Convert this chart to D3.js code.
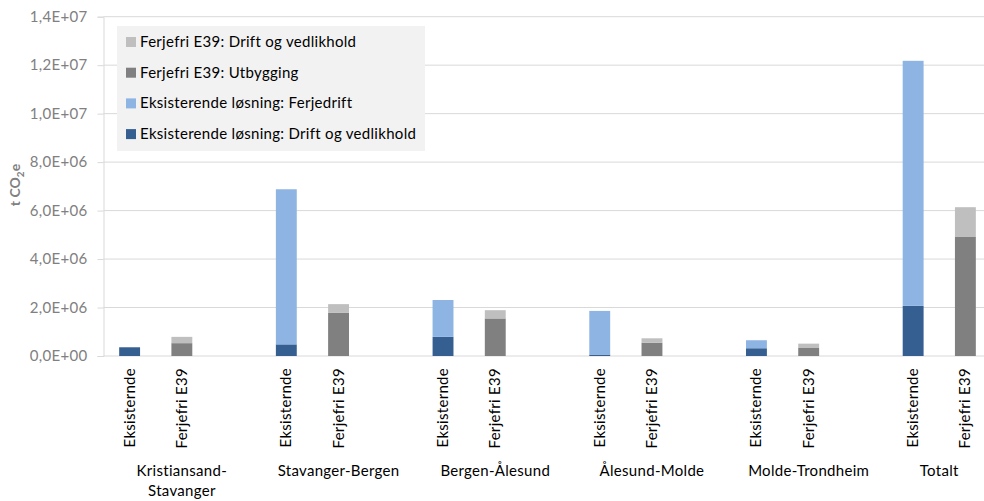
<!DOCTYPE html>
<html>
<head>
<meta charset="utf-8">
<script src="https://cdn.jsdelivr.net/npm/d3@7/dist/d3.min.js"></script>
<style>
  html, body { margin: 0; padding: 0; background: #fff; }
  svg { display: block; font-family: Lato, "Open Sans", sans-serif; }
  .lbl { font-size: 15px; letter-spacing: 0.3px; }
</style>
</head>
<body>
<svg id="chart" width="984" height="501"></svg>
<script>
// Route groups and the two alternatives compared in each
const groups = ["Kristiansand-\nStavanger", "Stavanger-Bergen", "Bergen-Ålesund", "Ålesund-Molde", "Molde-Trondheim", "Totalt"];
const alternatives = ["Eksisternde", "Ferjefri E39"];

// Series values, t CO2e (one entry per route group)
const eksDrift      = [0.36e6, 0.48e6, 0.79e6, 0.06e6, 0.32e6, 2.07e6];
const eksFerjedrift = [0,      6.40e6, 1.52e6, 1.80e6, 0.33e6, 10.11e6];
const ffUtbygging   = [0.53e6, 1.79e6, 1.55e6, 0.55e6, 0.33e6, 4.93e6];
const ffDrift       = [0.26e6, 0.35e6, 0.34e6, 0.18e6, 0.18e6, 1.21e6];

const yTicks = [0, 2e6, 4e6, 6e6, 8e6, 1e7, 1.2e7, 1.4e7];
const legendLabels = [
  "Ferjefri E39: Drift og vedlikhold",
  "Ferjefri E39: Utbygging",
  "Eksisterende løsning: Ferjedrift",
  "Eksisterende løsning: Drift og vedlikhold"
];

const colors = {
  eksDrift: "#365f91",
  eksFerjedrift: "#8eb4e3",
  ffUtbygging: "#808080",
  ffDrift: "#bfbfbf"
};
const legendColors = [colors.ffDrift, colors.ffUtbygging, colors.eksFerjedrift, colors.eksDrift];

const svg = d3.select("#chart");
const plot = { left: 103.5, right: 991.5, top: 16.7, bottom: 356 };

// Slots: each route group has two bars and a spacer; the total group has no spacer
const slots = [];
groups.forEach((g, gi) => {
  alternatives.forEach((a, ai) => slots.push(`${gi}|${ai}`));
  if (gi < groups.length - 1) slots.push(`${gi}|gap`);
});

const x = d3.scaleBand().domain(slots).range([plot.left, plot.right]).paddingInner(0.6).paddingOuter(0.3);
const xSlot = d3.scaleBand().domain(slots).range([plot.left, plot.right]);
const y = d3.scaleLinear().domain([0, 1.4e7]).range([plot.bottom, plot.top]);

// Gridlines
svg.append("g")
  .selectAll("line")
  .data(yTicks.slice(1))
  .join("line")
  .attr("x1", plot.left).attr("x2", 984)
  .attr("y1", d => y(d)).attr("y2", d => y(d))
  .attr("stroke", "#d9d9d9").attr("stroke-width", 1);

// Y axis
const fmt = d => {
  if (d === 0) return "0,0E+00";
  const e = Math.floor(Math.log10(d));
  const m = d / Math.pow(10, e);
  return m.toFixed(1).replace(".", ",") + "E+" + String(e).padStart(2, "0");
};
const yAxis = d3.axisLeft(y).tickValues(yTicks).tickFormat(fmt).tickSize(6).tickPadding(10);
const yg = svg.append("g").attr("transform", `translate(${plot.left},0)`).call(yAxis);
yg.select(".domain").attr("stroke", "#d9d9d9");
yg.selectAll(".tick line").attr("stroke", "#d9d9d9");
yg.selectAll(".tick text").attr("class", "lbl").attr("fill", "#808080").style("font-family", "Lato, sans-serif");

// Baseline
svg.append("line")
  .attr("x1", plot.left).attr("x2", 984)
  .attr("y1", y(0)).attr("y2", y(0))
  .attr("stroke", "#d9d9d9");

// Stacked bars
const bars = [];
groups.forEach((g, gi) => {
  bars.push({ key: `${gi}|0`, y0: 0, y1: eksDrift[gi], c: colors.eksDrift });
  bars.push({ key: `${gi}|0`, y0: eksDrift[gi], y1: eksDrift[gi] + eksFerjedrift[gi], c: colors.eksFerjedrift });
  bars.push({ key: `${gi}|1`, y0: 0, y1: ffUtbygging[gi], c: colors.ffUtbygging });
  bars.push({ key: `${gi}|1`, y0: ffUtbygging[gi], y1: ffUtbygging[gi] + ffDrift[gi], c: colors.ffDrift });
});
svg.append("g")
  .selectAll("rect")
  .data(bars.filter(b => b.y1 > b.y0))
  .join("rect")
  .attr("x", d => x(d.key))
  .attr("width", x.bandwidth())
  .attr("y", d => y(d.y1))
  .attr("height", d => y(d.y0) - y(d.y1))
  .attr("fill", d => d.c);

// Rotated alternative labels
const xl = svg.append("g").attr("fill", "#000");
groups.forEach((g, gi) => {
  alternatives.forEach((a, ai) => {
    const cx = xSlot(`${gi}|${ai}`) + xSlot.bandwidth() / 2;
    xl.append("text")
      .attr("class", "lbl")
      .attr("transform", `translate(${cx + 5},368) rotate(-90)`)
      .attr("text-anchor", "end")
      .text(a);
  });
});

// Group labels
groups.forEach((g, gi) => {
  const first = xSlot(`${gi}|0`);
  const last = gi < groups.length - 1 ? xSlot(`${gi}|gap`) + xSlot.bandwidth() : plot.right;
  const cx = (first + last) / 2;
  const t = svg.append("text")
    .attr("class", "lbl")
    .attr("x", cx).attr("y", 476)
    .attr("text-anchor", "middle")
    .attr("fill", "#000");
  g.split("\n").forEach((line, li) => {
    t.append("tspan").attr("x", cx).attr("dy", li === 0 ? 0 : 20).text(line);
  });
});

// Y axis title
const yt = svg.append("text")
  .attr("transform", `translate(20,185) rotate(-90)`)
  .attr("text-anchor", "middle")
  .attr("fill", "#808080")
  .style("font-size", "14px")
  .style("font-weight", "bold");
yt.append("tspan").text("t CO");
yt.append("tspan").attr("dy", 4).style("font-size", "10px").text("2");
yt.append("tspan").attr("dy", -4).text("e");

// Legend
const lg = svg.append("g");
lg.append("rect")
  .attr("x", 117).attr("y", 26).attr("width", 308).attr("height", 125)
  .attr("fill", "#f2f2f2");
legendLabels.forEach((l, i) => {
  const cy = 42 + i * 30.7;
  lg.append("rect").attr("x", 126).attr("y", cy - 5).attr("width", 10).attr("height", 10).attr("fill", legendColors[i]);
  lg.append("text").attr("class", "lbl").attr("x", 140).attr("y", cy + 5).attr("fill", "#000").text(l);
});
</script>
</body>
</html>
